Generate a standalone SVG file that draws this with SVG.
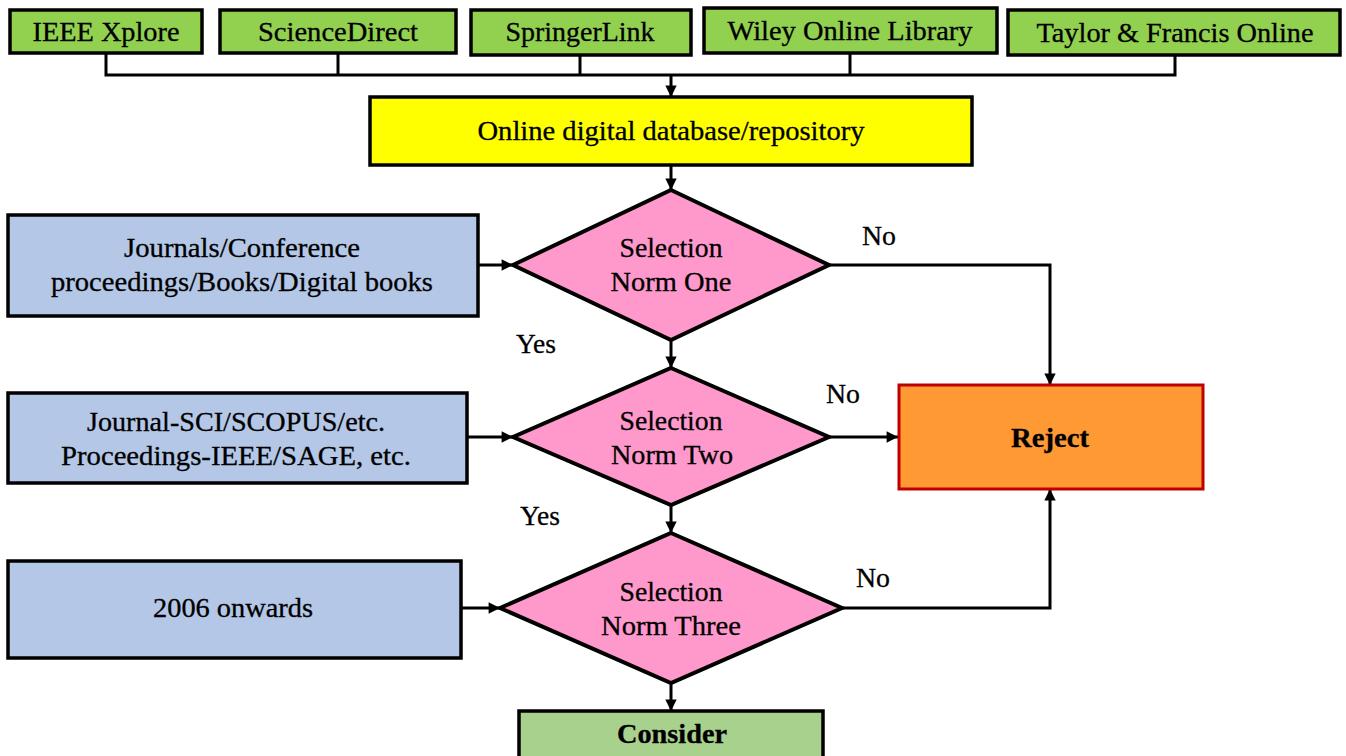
<svg xmlns="http://www.w3.org/2000/svg" width="1346" height="756" viewBox="0 0 1346 756" font-family="Liberation Serif, serif">
<style>
text{font-family:'Liberation Serif','Times New Roman',serif;font-size:27px;fill:#000;stroke:#000;stroke-width:0.3;text-anchor:middle}
.b{font-weight:bold}
.box{stroke:#000;stroke-width:3.5}
.src{fill:#92D050}
.db{fill:#FFFF00}
.in{fill:#B4C7E7}
.dia{fill:#FF99CC;stroke:#000;stroke-width:4}
.rej{fill:#FF9933;stroke:#C00000;stroke-width:3}
.con{fill:#A9D18E}
.ln{fill:none;stroke:#000;stroke-width:3}
</style>
<defs>
<marker id="ah" viewBox="0 0 10 10" refX="10" refY="5" markerWidth="4.2" markerHeight="3.8" orient="auto" markerUnits="strokeWidth">
<path d="M0,0 L10,5 L0,10 z" fill="#000"/>
</marker>
</defs>
<g id="connectors">
<path class="ln" d="M106,53 V75 H1175 V55"/>
<path class="ln" d="M338,53 V75"/>
<path class="ln" d="M580,55 V75"/>
<path class="ln" d="M850,53 V75"/>
<path class="ln" d="M671,75 V97" marker-end="url(#ah)"/>
<path class="ln" d="M671,165 V190" marker-end="url(#ah)"/>
<path class="ln" d="M671,340 V368" marker-end="url(#ah)"/>
<path class="ln" d="M671,505 V533" marker-end="url(#ah)"/>
<path class="ln" d="M671,683 V711" marker-end="url(#ah)"/>
<path class="ln" d="M478,265 H513" marker-end="url(#ah)"/>
<path class="ln" d="M467,437 H513" marker-end="url(#ah)"/>
<path class="ln" d="M461,608 H500" marker-end="url(#ah)"/>
<path class="ln" d="M829,265 H1050 V385" marker-end="url(#ah)"/>
<path class="ln" d="M829,437 H898" marker-end="url(#ah)"/>
<path class="ln" d="M842,608 H1050 V489" marker-end="url(#ah)"/>
<text x="879" y="245" textLength="34" lengthAdjust="spacingAndGlyphs">No</text>
<text x="843" y="403" textLength="34" lengthAdjust="spacingAndGlyphs">No</text>
<text x="873" y="587" textLength="34" lengthAdjust="spacingAndGlyphs">No</text>
<text x="536" y="353" textLength="40" lengthAdjust="spacingAndGlyphs">Yes</text>
<text x="540" y="525" textLength="40" lengthAdjust="spacingAndGlyphs">Yes</text>
</g>
<g id="ieee">
<rect class="box src" x="10" y="10" width="192" height="43"/>
<text x="106" y="41" textLength="147" lengthAdjust="spacingAndGlyphs">IEEE Xplore</text>
</g>
<g id="sciencedirect">
<rect class="box src" x="220" y="10" width="236" height="43"/>
<text x="338" y="41" textLength="160" lengthAdjust="spacingAndGlyphs">ScienceDirect</text>
</g>
<g id="springerlink">
<rect class="box src" x="471" y="10" width="220" height="45"/>
<text x="580" y="41" textLength="149" lengthAdjust="spacingAndGlyphs">SpringerLink</text>
</g>
<g id="wiley">
<rect class="box src" x="704" y="8" width="293" height="45"/>
<text x="850" y="40" textLength="245" lengthAdjust="spacingAndGlyphs">Wiley Online Library</text>
</g>
<g id="taylor">
<rect class="box src" x="1008" y="10" width="332" height="45"/>
<text x="1175" y="42" textLength="277" lengthAdjust="spacingAndGlyphs">Taylor &amp; Francis Online</text>
</g>
<g id="database">
<rect class="box db" x="370" y="97" width="602" height="68"/>
<text x="671" y="140" textLength="387" lengthAdjust="spacingAndGlyphs">Online digital database/repository</text>
</g>
<g id="input1">
<rect class="box in" x="8" y="215" width="470" height="101"/>
<text x="242" y="257" textLength="236" lengthAdjust="spacingAndGlyphs">Journals/Conference</text>
<text x="242" y="291" textLength="382" lengthAdjust="spacingAndGlyphs">proceedings/Books/Digital books</text>
</g>
<g id="norm1">
<polygon class="dia" points="671,190 829,265 671,340 513,265"/>
<text x="671" y="257" textLength="103" lengthAdjust="spacingAndGlyphs">Selection</text>
<text x="671" y="291" textLength="121" lengthAdjust="spacingAndGlyphs">Norm One</text>
</g>
<g id="input2">
<rect class="box in" x="8" y="393" width="459" height="90"/>
<text x="236" y="431" textLength="298" lengthAdjust="spacingAndGlyphs">Journal-SCI/SCOPUS/etc.</text>
<text x="236" y="465" textLength="350" lengthAdjust="spacingAndGlyphs">Proceedings-IEEE/SAGE, etc.</text>
</g>
<g id="norm2">
<polygon class="dia" points="671,368 829,437 671,505 513,437"/>
<text x="671" y="430" textLength="103" lengthAdjust="spacingAndGlyphs">Selection</text>
<text x="672" y="464" textLength="122" lengthAdjust="spacingAndGlyphs">Norm Two</text>
</g>
<g id="input3">
<rect class="box in" x="8" y="561" width="453" height="97"/>
<text x="233" y="617" textLength="160" lengthAdjust="spacingAndGlyphs">2006 onwards</text>
</g>
<g id="norm3">
<polygon class="dia" points="671,533 842,608 671,683 500,608"/>
<text x="671" y="601" textLength="103" lengthAdjust="spacingAndGlyphs">Selection</text>
<text x="671" y="635" textLength="140" lengthAdjust="spacingAndGlyphs">Norm Three</text>
</g>
<g id="reject">
<rect class="rej" x="899" y="385" width="304" height="104"/>
<text class="b" x="1050" y="447" textLength="78" lengthAdjust="spacingAndGlyphs">Reject</text>
</g>
<g id="consider">
<rect class="box con" x="519" y="711" width="304" height="50"/>
<text class="b" x="672" y="743" textLength="110" lengthAdjust="spacingAndGlyphs">Consider</text>
</g>
</svg>
